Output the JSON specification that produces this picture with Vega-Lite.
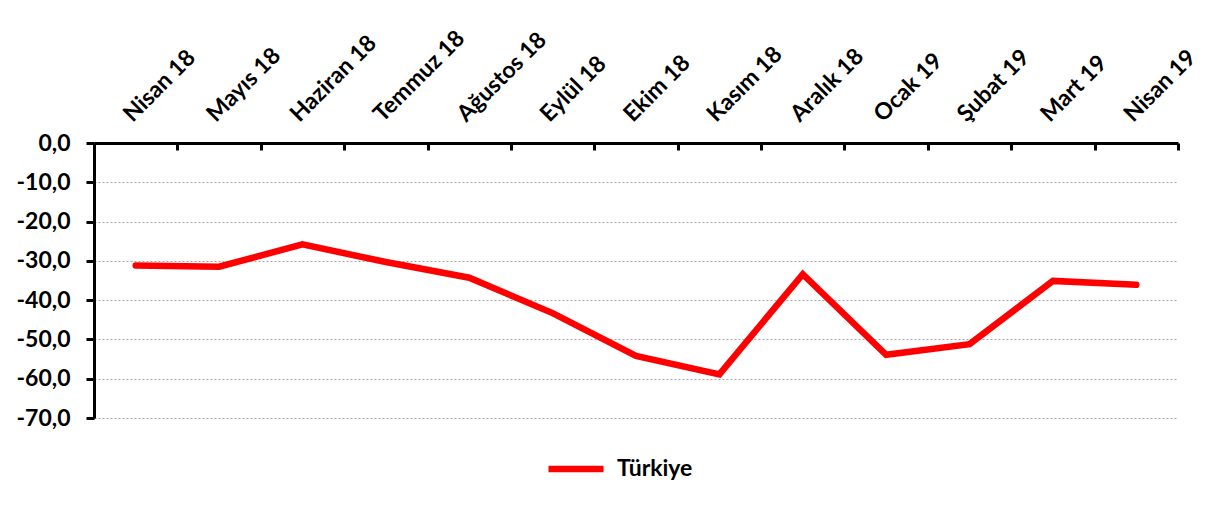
{
  "$schema": "https://vega.github.io/schema/vega-lite/v6.json",
  "width": 1084,
  "height": 275,
  "autosize": {"type": "none"},
  "padding": {"left": 94, "top": 143, "right": 45, "bottom": 88},
  "background": "white",
  "config": {
    "locale": {"number": {"decimal": ",", "thousands": ".", "grouping": [3], "currency": ["", " TL"], "minus": "-"}},
    "font": "Lato",
    "view": {"stroke": null},
    "axis": {"labelFont": "Lato", "labelFontWeight": "bold", "labelColor": "#000000", "labelFontSize": 23}
  },
  "data": {
    "values": [
      {"ay": "Nisan 18", "deger": -31.2, "seri": "Türkiye"},
      {"ay": "Mayıs 18", "deger": -31.5, "seri": "Türkiye"},
      {"ay": "Haziran 18", "deger": -25.8, "seri": "Türkiye"},
      {"ay": "Temmuz 18", "deger": -30.3, "seri": "Türkiye"},
      {"ay": "Ağustos 18", "deger": -34.3, "seri": "Türkiye"},
      {"ay": "Eylül 18", "deger": -43.3, "seri": "Türkiye"},
      {"ay": "Ekim 18", "deger": -54.2, "seri": "Türkiye"},
      {"ay": "Kasım 18", "deger": -58.9, "seri": "Türkiye"},
      {"ay": "Aralık 18", "deger": -33.4, "seri": "Türkiye"},
      {"ay": "Ocak 19", "deger": -53.9, "seri": "Türkiye"},
      {"ay": "Şubat 19", "deger": -51.2, "seri": "Türkiye"},
      {"ay": "Mart 19", "deger": -35.1, "seri": "Türkiye"},
      {"ay": "Nisan 19", "deger": -36.1, "seri": "Türkiye"}
    ]
  },
  "mark": {"type": "line", "strokeWidth": 6.5, "strokeCap": "round", "strokeJoin": "miter"},
  "encoding": {
    "x": {
      "field": "ay", "type": "ordinal", "sort": null,
      "scale": {"type": "band", "paddingInner": 0, "paddingOuter": 0},
      "axis": {
        "orient": "top", "title": null, "labelAngle": -45, "labelPadding": 24,
        "domainColor": "#000000", "domainWidth": 3, "tickColor": "#000000", "tickWidth": 3,
        "tickSize": -7, "tickBand": "extent", "grid": false
      }
    },
    "y": {
      "field": "deger", "type": "quantitative",
      "scale": {"domain": [-70, 0], "nice": false, "zero": false},
      "axis": {
        "title": null, "values": [0, -10, -20, -30, -40, -50, -60, -70], "format": ".1f",
        "domainColor": "#000000", "domainWidth": 3, "tickColor": "#000000", "tickWidth": 3, "tickSize": 8,
        "labelPadding": 16, "grid": true, "gridColor": "#a6a6a6", "gridDash": [2, 2], "gridWidth": 1
      }
    },
    "color": {
      "field": "seri", "type": "nominal",
      "scale": {"range": ["#ff0000"]},
      "legend": {
        "title": null, "orient": "none", "legendX": 451, "legendY": 295, "direction": "horizontal",
        "symbolType": "stroke", "symbolSize": 3025, "symbolStrokeWidth": 6.5, "labelOffset": 10,
        "labelFont": "Lato", "labelFontWeight": "bold", "labelFontSize": 23, "labelColor": "#000000"
      }
    }
  }
}
